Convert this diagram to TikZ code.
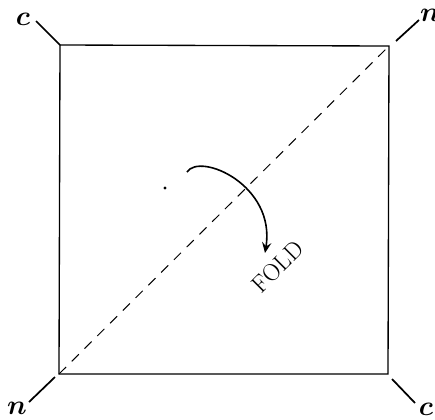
\documentclass[tikz,border=0pt]{standalone}
\usetikzlibrary{arrows.meta}
\tikzset{
  mark label/.style={font=\fontsize{20}{22}\selectfont\boldmath, inner sep=0pt},
  corner tick/.style={line width=1.3pt}
}
\begin{document}
\begin{tikzpicture}[x=0.75pt,y=-0.75pt,line width=1pt]
\useasboundingbox (0,0) rectangle (435,419);
\coordinate (tl) at (60,45);
\coordinate (tr) at (389,46);
\coordinate (bl) at (59,374);
\coordinate (br) at (388,374);
\draw (tl) -- (tr) -- (br) -- (bl) -- cycle;
\draw[line width=0.75pt,dash pattern=on 7.5pt off 6pt] (bl) -- (tr);
% corner marks
\coordinate (t1) at (36,21);
\coordinate (t2a) at (396,41);
\coordinate (t2) at (419,20);
\coordinate (t3a) at (55,377);
\coordinate (t3) at (29,402);
\coordinate (t4a) at (392,379);
\coordinate (t4) at (415,403);
\draw[corner tick] (tl) -- (t1);
\draw[corner tick] (t2a) -- (t2);
\draw[corner tick] (t3a) -- (t3);
\draw[corner tick] (t4a) -- (t4);
\node[mark label] (lc1) at (23,19) {$c$};
\node[mark label] (ln1) at (430,15) {$n$};
\node[mark label] (ln2) at (17,408) {$n$};
\node[mark label] (lc2) at (426,409) {$c$};
% fold arrow
\fill (165,188) circle (1.3pt);
\coordinate (a0) at (187,172);
\coordinate (a1) at (265,253);
\draw[line width=1.2pt,-{Stealth[length=8pt,width=7pt,inset=3pt]}] (a0) .. controls (200,152) and (276,185) .. (a1);
\node[rotate=45,font=\fontsize{18}{20}\selectfont] (fold) at (278,267) {FOLD};
\end{tikzpicture}
\end{document}
